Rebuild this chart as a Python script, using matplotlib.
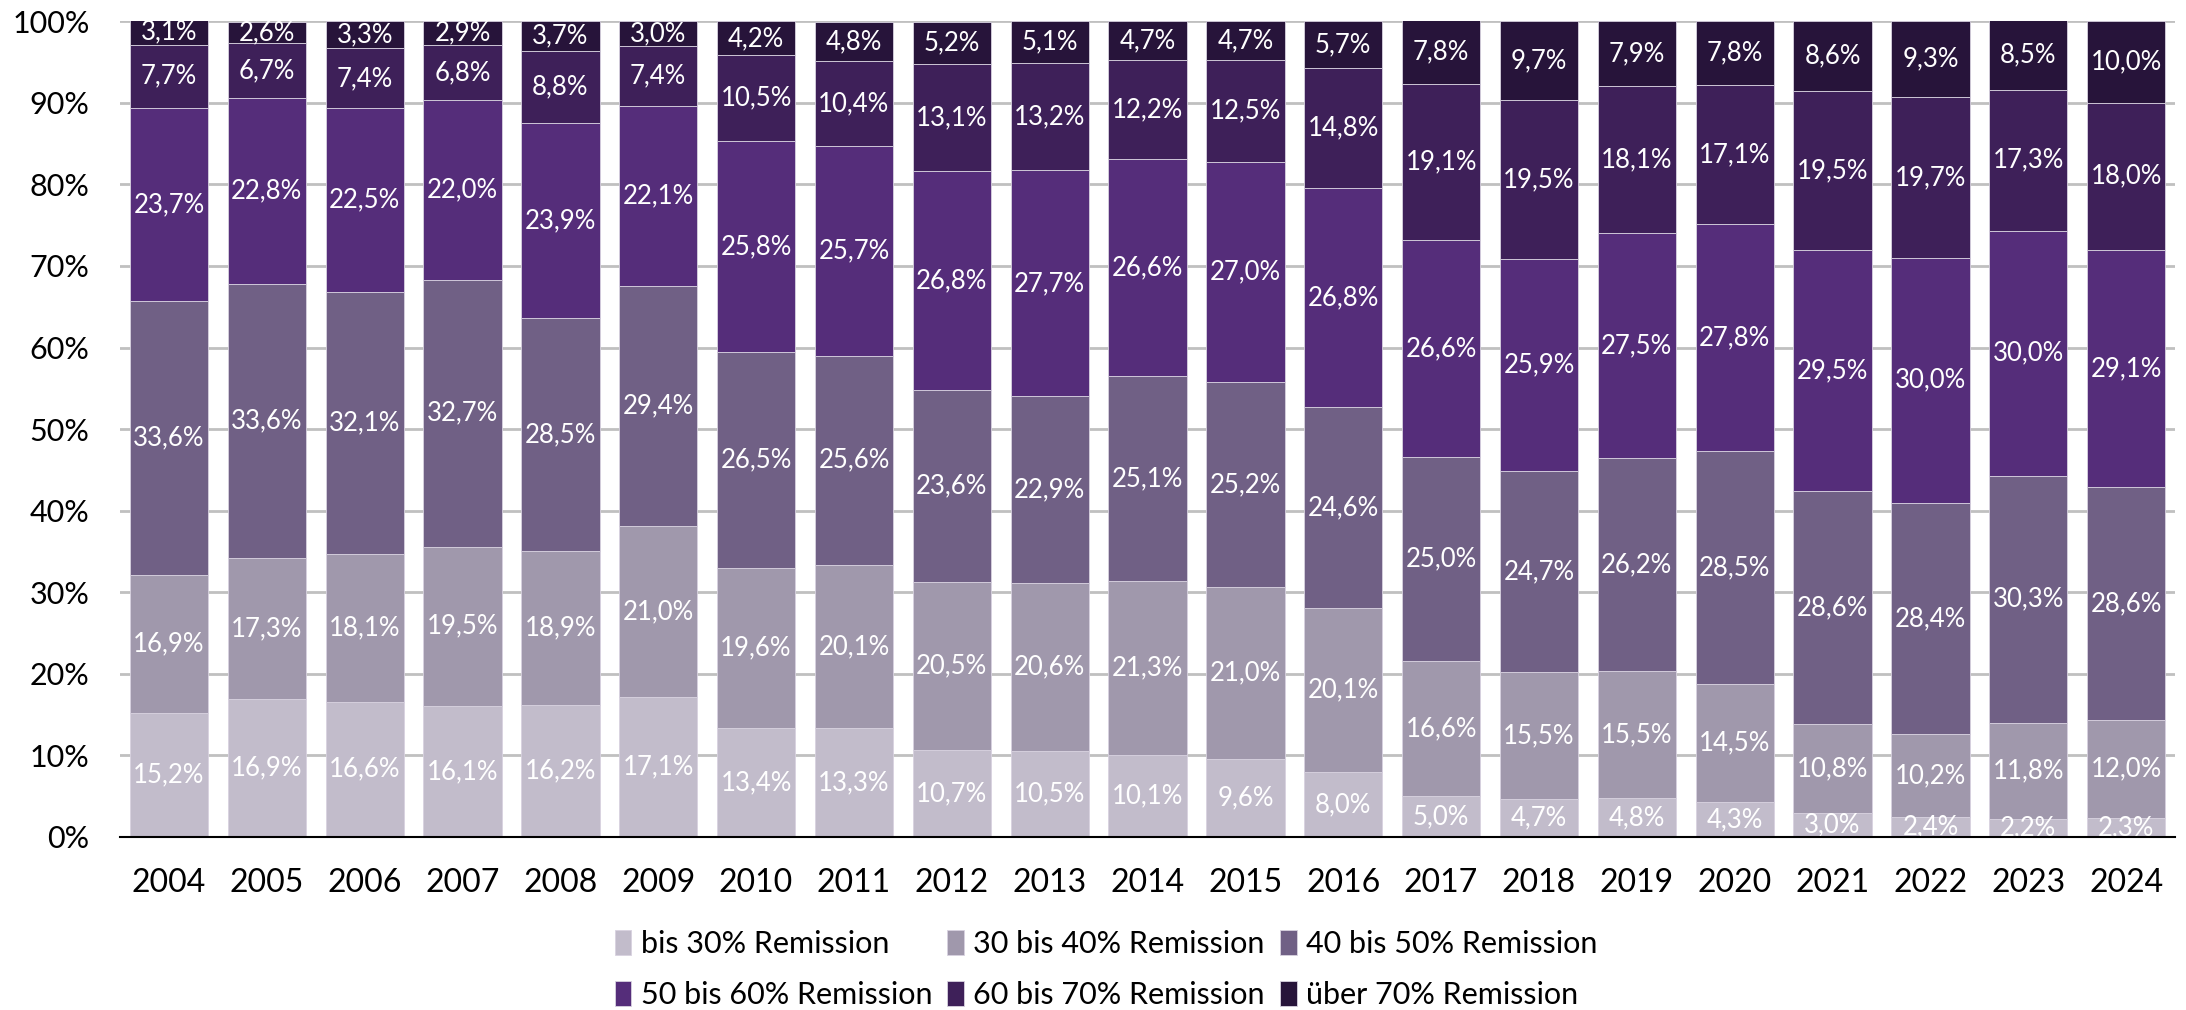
import numpy as np
import matplotlib
matplotlib.use("Agg")
import matplotlib.pyplot as plt

plt.rcParams['font.family'] = ['Lato', 'DejaVu Sans']

years = [str(y) for y in range(2004, 2025)]
series = ["bis 30% Remission", "30 bis 40% Remission", "40 bis 50% Remission",
          "50 bis 60% Remission", "60 bis 70% Remission", "über 70% Remission"]

bis30 = [15.2, 16.9, 16.6, 16.1, 16.2, 17.1, 13.4, 13.3, 10.7, 10.5, 10.1, 9.6, 8.0, 5.0, 4.7, 4.8, 4.3, 3.0, 2.4, 2.2, 2.3]
b30_40 = [16.9, 17.3, 18.1, 19.5, 18.9, 21.0, 19.6, 20.1, 20.5, 20.6, 21.3, 21.0, 20.1, 16.6, 15.5, 15.5, 14.5, 10.8, 10.2, 11.8, 12.0]
b40_50 = [33.6, 33.6, 32.1, 32.7, 28.5, 29.4, 26.5, 25.6, 23.6, 22.9, 25.1, 25.2, 24.6, 25.0, 24.7, 26.2, 28.5, 28.6, 28.4, 30.3, 28.6]
b50_60 = [23.7, 22.8, 22.5, 22.0, 23.9, 22.1, 25.8, 25.7, 26.8, 27.7, 26.6, 27.0, 26.8, 26.6, 25.9, 27.5, 27.8, 29.5, 30.0, 30.0, 29.1]
b60_70 = [7.7, 6.7, 7.4, 6.8, 8.8, 7.4, 10.5, 10.4, 13.1, 13.2, 12.2, 12.5, 14.8, 19.1, 19.5, 18.1, 17.1, 19.5, 19.7, 17.3, 18.0]
ueber70 = [3.1, 2.6, 3.3, 2.9, 3.7, 3.0, 4.2, 4.8, 5.2, 5.1, 4.7, 4.7, 5.7, 7.8, 9.7, 7.9, 7.8, 8.6, 9.3, 8.5, 10.0]

colors = ['#c2bccb', '#a098ac', '#706085', '#552d7a', '#3e2059', '#27143a']

fig = plt.figure(figsize=(21.86, 10.10), dpi=100)
ax = fig.add_axes([0.0549, 0.1713, 0.9401, 0.8077])

x = np.arange(len(years))
bottom = np.zeros(len(years))
handles = []
for name, vals, col in zip(series, [bis30, b30_40, b40_50, b50_60, b60_70, ueber70], colors):
    vals = np.array(vals)
    bars = ax.bar(x, vals, 0.8, bottom=bottom, color=col, edgecolor='#d8d2e0',
                  linewidth=0.6, label=name, zorder=2)
    handles.append(bars)
    for xi, b, v in zip(x, bottom, vals):
        ax.text(xi, b + v / 2, f"{v:.1f}%".replace('.', ','), ha='center', va='center',
                color='white', fontsize=18.5, zorder=3)
    bottom += vals

ax.set_ylim(0, 100)
ax.set_xlim(-0.5, len(years) - 0.5)
ax.set_yticks(np.arange(0, 101, 10))
ax.set_yticklabels([f"{t}%" for t in range(0, 101, 10)])
ax.set_xticks(x)
ax.set_xticklabels(years)
ax.tick_params(axis='both', length=0, labelsize=22)
ax.tick_params(axis='x', labelsize=23)
ax.tick_params(axis='y', pad=22)
ax.tick_params(axis='x', pad=22)
ax.yaxis.grid(True, color='#c0c0c0', linewidth=2, zorder=0)
ax.set_axisbelow(True)
for s in ['top', 'right', 'left']:
    ax.spines[s].set_visible(False)
ax.spines['bottom'].set_color('black')
ax.spines['bottom'].set_linewidth(1.5)
ax.spines['bottom'].set_zorder(4)

order = [0, 3, 1, 4, 2, 5]
fig.legend([handles[i] for i in order], [series[i] for i in order], ncol=3,
           loc='center', bbox_to_anchor=(0.506, 0.040), frameon=False, fontsize=22,
           handlelength=0.55, handleheight=0.9, handletextpad=0.3, columnspacing=0.5,
           labelspacing=0.75)

fig.savefig("out.png", dpi=100)
